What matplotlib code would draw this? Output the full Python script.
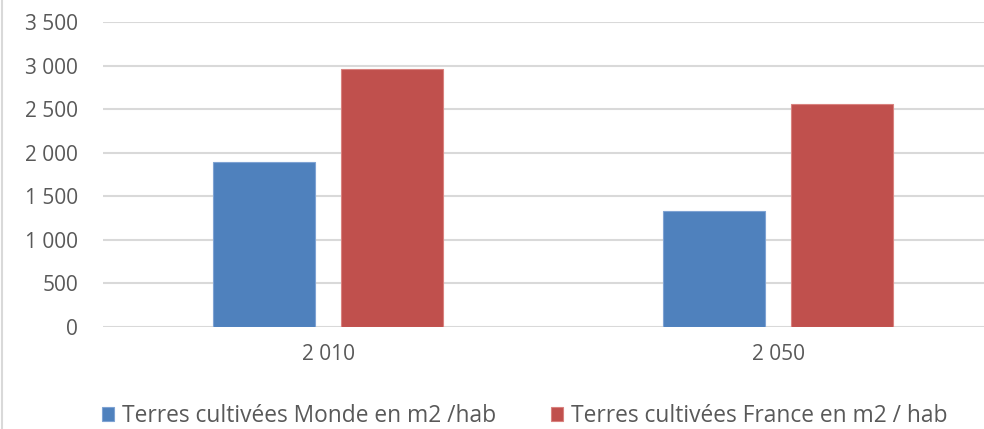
import matplotlib.pyplot as plt
import numpy as np
from matplotlib.lines import Line2D
from matplotlib.ticker import FuncFormatter

years = ["2 010", "2 050"]
monde = [1890, 1330]
france = [2955, 2555]
series_names = ["Terres cultivées Monde en m2 /hab", "Terres cultivées France en m2 / hab"]

plt.rcParams['font.family'] = ['Open Sans', 'DejaVu Sans']

fig = plt.figure(figsize=(9.84, 4.29), dpi=100)
# plot area runs past the right edge of the picture, like the cropped reference
ax = fig.add_axes([103 / 984, 1 - 327 / 429, 900 / 984, 305 / 429])

x = np.arange(len(years))
w = 0.225
off = 0.142
ax.bar(x - off, monde, w, color='#4F81BD', edgecolor='#7FA3D3', linewidth=0.8, label=series_names[0], zorder=3)
ax.bar(x + off, france, w, color='#C0504D', edgecolor='#D9827F', linewidth=0.8, label=series_names[1], zorder=3)

ax.set_xlim(-0.5, 1.5)
ax.set_ylim(0, 3500)
ax.set_yticks(np.arange(0, 3501, 500))
ax.yaxis.set_major_formatter(FuncFormatter(lambda v, p: f"{int(v):,}".replace(",", " ")))
ax.set_xticks(x)
ax.set_xticklabels(years)

ax.grid(axis='y', color='#D9D9D9', linewidth=1.5, zorder=0)
for s in ax.spines.values():
    s.set_visible(False)
ax.tick_params(axis='both', length=0, labelsize=15, colors='#595959')
ax.tick_params(axis='y', pad=18)
ax.tick_params(axis='x', pad=12)

handles, labels = ax.get_legend_handles_labels()
fig.legend(handles, labels, loc='center', bbox_to_anchor=(525 / 984, 1 - 416 / 429),
           ncol=2, frameon=False, fontsize=16.4, labelcolor='#595959',
           handlelength=0.53, handleheight=0.53, handletextpad=0.35, columnspacing=2.4)

fig.add_artist(Line2D([2 / 984, 2 / 984], [0, 1], transform=fig.transFigure, color='#D9D9D9', linewidth=1.5))

fig.savefig("out.png", dpi=100)
